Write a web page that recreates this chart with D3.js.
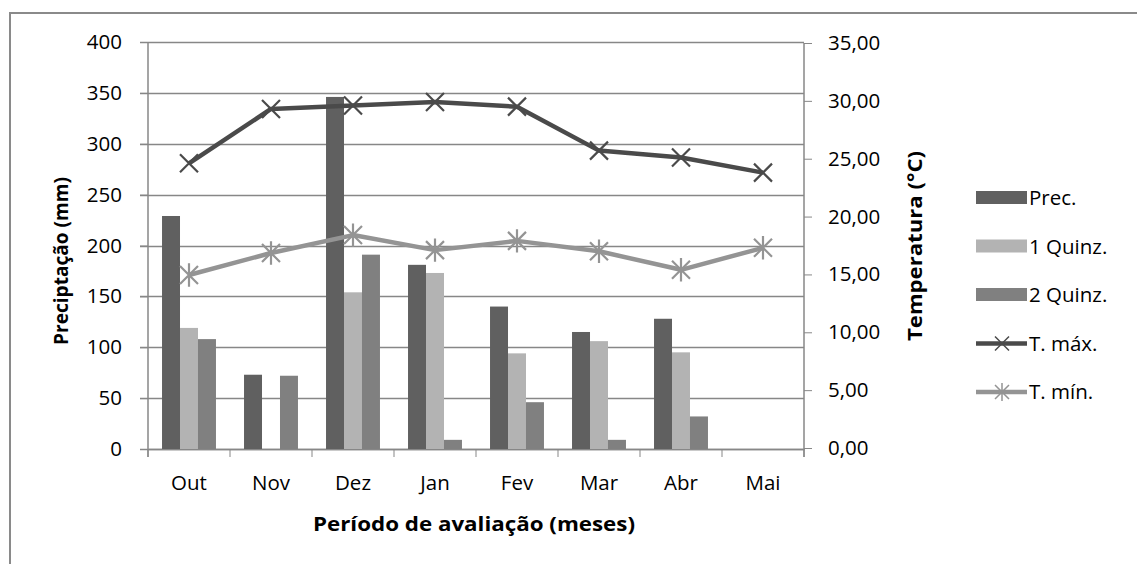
<!DOCTYPE html>
<html>
<head>
<meta charset="utf-8">
<script src="https://cdn.jsdelivr.net/npm/d3@7"></script>
<style>
  body { margin: 0; background: #fff; }
  text { font-family: "Open Sans", Lato, sans-serif; fill: #000; }
</style>
</head>
<body>
<div id="chart-area"></div>
<script>
// data
var months = ["Out", "Nov", "Dez", "Jan", "Fev", "Mar", "Abr", "Mai"];
var prec   = [229, 73, 346, 181, 140, 115, 128, 0];
var quinz1 = [119, 0, 154, 173, 94, 106, 95, 0];
var quinz2 = [108, 72, 191, 9, 46, 9, 32, 0];
var tMax   = [24.6, 29.3, 29.6, 29.9, 29.5, 25.7, 25.1, 23.8];
var tMin   = [14.95, 16.85, 18.4, 17.1, 17.9, 17.0, 15.4, 17.3];
var precTicks = [0, 50, 100, 150, 200, 250, 300, 350, 400];
var tempTicks = [0, 5, 10, 15, 20, 25, 30, 35];

var barSeries = [
  {name: "Prec.", values: prec, color: "#606060"},
  {name: "1 Quinz.", values: quinz1, color: "#b3b3b3"},
  {name: "2 Quinz.", values: quinz2, color: "#808080"}
];
var lineSeries = [
  {name: "T. máx.", values: tMax, color: "#4a4a4a", marker: "x"},
  {name: "T. mín.", values: tMin, color: "#949494", marker: "star"}
];

var W = 1137, H = 564;
var pLeft = 148, pRight = 804, pTop = 43, pBottom = 449;
var fs = "20.5px";

var svg = d3.select("#chart-area").append("svg")
  .attr("width", W).attr("height", H);

// outer frame (only left and top visible)
svg.append("path")
  .attr("d", "M10," + H + "V13H" + W)
  .attr("fill", "none").attr("stroke", "#8a8a8a").attr("stroke-width", 2);

var x = d3.scaleBand().domain(months).range([pLeft, pRight]).paddingInner(0).paddingOuter(0);
var x1 = d3.scaleBand().domain(barSeries.map(d => d.name))
  .range([0, x.bandwidth()]).paddingInner(0).paddingOuter(0.78);
var y = d3.scaleLinear().domain([0, 400]).range([pBottom, pTop - 1]);
var y2 = d3.scaleLinear().domain([0, 35]).range([pBottom - 1, pTop]);

// gridlines
svg.append("g").selectAll("line").data(precTicks).enter().append("line")
  .attr("x1", pLeft - 8).attr("x2", pRight)
  .attr("y1", d => Math.round(y(d)) + 0.5).attr("y2", d => Math.round(y(d)) + 0.5)
  .attr("stroke", "#878787").attr("stroke-width", 1.5);

// left axis
var yAxis = svg.append("g")
  .attr("transform", "translate(" + pLeft + ",0)")
  .call(d3.axisLeft(y).tickValues(precTicks).tickSize(8).tickPadding(18));
yAxis.select(".domain").attr("stroke", "#878787").attr("stroke-width", 1.5).attr("d", "M0," + pTop + "V" + (pBottom + 8));
yAxis.selectAll(".tick line").attr("stroke", "#878787");
yAxis.selectAll("text").attr("font-size", fs);

// right axis
var yAxis2 = svg.append("g")
  .attr("transform", "translate(" + pRight + ",0)")
  .call(d3.axisRight(y2).tickValues(tempTicks).tickSize(8).tickPadding(16)
    .tickFormat(d => d3.format(".2f")(d).replace(".", ",")));
yAxis2.select(".domain").attr("stroke", "#878787").attr("stroke-width", 1.5).attr("d", "M0," + pTop + "V" + (pBottom + 8));
yAxis2.selectAll(".tick line").attr("stroke", "#878787");
yAxis2.selectAll("text").attr("font-size", fs);

// bottom axis
var xAxis = svg.append("g")
  .attr("transform", "translate(0," + pBottom + ")")
  .call(d3.axisBottom(x).tickSize(0).tickPadding(26));
xAxis.select(".domain").attr("stroke", "#878787").attr("stroke-width", 1.5);
xAxis.selectAll("text").attr("font-size", fs);
xAxis.selectAll(".bound").data(months.concat(["end"])).enter().append("line")
  .attr("class", "bound")
  .attr("x1", (d, i) => pLeft + i * x.step()).attr("x2", (d, i) => pLeft + i * x.step())
  .attr("y1", 0).attr("y2", 8)
  .attr("stroke", "#878787");

// bars
var groups = svg.append("g").selectAll("g").data(barSeries).enter().append("g")
  .attr("fill", d => d.color);
groups.selectAll("rect").data(s => s.values.map((v, i) => ({s: s.name, m: months[i], v: v})))
  .enter().append("rect")
  .attr("x", d => x(d.m) + x1(d.s))
  .attr("width", x1.bandwidth())
  .attr("y", d => y(d.v))
  .attr("height", d => pBottom - y(d.v));

// lines
var line = d3.line().x((d, i) => x(months[i]) + x.bandwidth() / 2).y(d => y2(d));

function markerPath(type, s) {
  var p = "M" + (-s) + "," + (-s) + "L" + s + "," + s + "M" + (-s) + "," + s + "L" + s + "," + (-s);
  if (type === "star") p += "M0," + (-s * 1.3) + "V" + (s * 1.3);
  return p;
}

lineSeries.forEach(function(ls) {
  svg.append("path").datum(ls.values)
    .attr("d", line)
    .attr("fill", "none").attr("stroke", ls.color).attr("stroke-width", 4.5)
    .attr("stroke-linejoin", "round");
  svg.append("g").selectAll("path").data(ls.values).enter().append("path")
    .attr("transform", (d, i) => "translate(" + (x(months[i]) + x.bandwidth() / 2) + "," + y2(d) + ")")
    .attr("d", markerPath(ls.marker, 9))
    .attr("stroke", ls.color).attr("stroke-width", 2.2).attr("fill", "none");
});

// axis titles
svg.append("text")
  .attr("transform", "translate(68,261) rotate(-90)")
  .attr("text-anchor", "middle").attr("font-size", "20px").attr("font-weight", "bold")
  .attr("textLength", 168).attr("lengthAdjust", "spacingAndGlyphs")
  .text("Preciptação (mm)");
svg.append("text")
  .attr("transform", "translate(922,246) rotate(-90)")
  .attr("text-anchor", "middle").attr("font-size", "20px").attr("font-weight", "bold")
  .attr("textLength", 190).attr("lengthAdjust", "spacingAndGlyphs")
  .text("Temperatura (°C)");
svg.append("text")
  .attr("x", (pLeft + pRight) / 2 - 2).attr("y", 531)
  .attr("text-anchor", "middle").attr("font-size", "20px").attr("font-weight", "bold")
  .attr("textLength", 322).attr("lengthAdjust", "spacingAndGlyphs")
  .text("Período de avaliação (meses)");

// legend
var legend = svg.append("g").attr("transform", "translate(976,198)");
var items = barSeries.map(d => ({name: d.name, color: d.color, type: "bar"}))
  .concat(lineSeries.map(d => ({name: d.name, color: d.color, type: "line", marker: d.marker})));
var li = legend.selectAll("g").data(items).enter().append("g")
  .attr("transform", (d, i) => "translate(0," + i * 48.5 + ")");
li.filter(d => d.type === "bar").append("rect")
  .attr("x", 0).attr("y", -7).attr("width", 51).attr("height", 13)
  .attr("fill", d => d.color);
li.filter(d => d.type === "line").append("line")
  .attr("x1", 0).attr("x2", 51).attr("y1", 0).attr("y2", 0)
  .attr("stroke", d => d.color).attr("stroke-width", 4.5);
li.filter(d => d.type === "line").append("path")
  .attr("transform", "translate(26,0)")
  .attr("d", d => markerPath(d.marker, 7))
  .attr("stroke", d => d.color).attr("stroke-width", 1.5).attr("fill", "none");
li.append("text")
  .attr("x", 53).attr("y", 0).attr("dy", "0.35em")
  .attr("font-size", fs)
  .text(d => d.name);
</script>
</body>
</html>
